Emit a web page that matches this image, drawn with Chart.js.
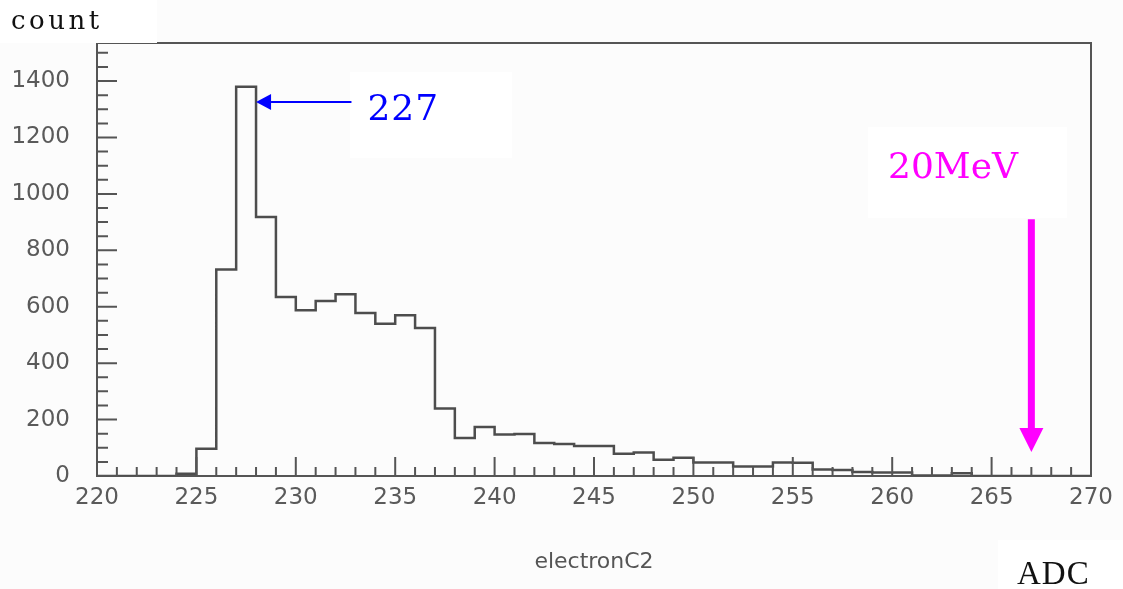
<!DOCTYPE html>
<html>
<head>
<meta charset="utf-8">
<title>electronC2</title>
<script src="https://cdn.jsdelivr.net/npm/chart.js@4.4.0/dist/chart.umd.min.js"></script>
<style>
  html, body { margin: 0; padding: 0; background: #fcfcfc; }
  canvas { display: block; }
</style>
</head>
<body>
<canvas id="hist" width="1123" height="589"></canvas>
<script>
// lower edge of each 1-ADC bin and the number of entries in it
const binEdges = [
  220, 221, 222, 223, 224, 225, 226, 227, 228, 229,
  230, 231, 232, 233, 234, 235, 236, 237, 238, 239,
  240, 241, 242, 243, 244, 245, 246, 247, 248, 249,
  250, 251, 252, 253, 254, 255, 256, 257, 258, 259,
  260, 261, 262, 263, 264, 265, 266, 267, 268, 269
];
const counts = [
  0, 0, 0, 0, 8, 97, 732, 1380, 918, 635,
  588, 620, 644, 578, 540, 570, 525, 239, 135, 174,
  147, 149, 117, 113, 106, 106, 79, 83, 58, 65,
  48, 48, 34, 34, 48, 47, 23, 21, 14, 12,
  12, 2, 2, 10, 0, 0, 0, 0, 0, 0
];
const xRange = [220, 270];
const yRange = [0, 1535];

// annotations: peak position and the 20 MeV marker (ADC, count)
const peakAdc = 227;
const peakArrow = [232.8, 1326, 228.0, 1326];
const markerAdc = 267;
const markerArrow = [markerAdc, 910, markerAdc, 85];
const markerText = '20MeV';

// histogram outline as a stepped line through the bin edges
const points = binEdges.map((e, i) => ({ x: e, y: counts[i] }));
points.push({ x: xRange[1], y: counts[counts.length - 1] });

function drawArrow(ctx, x1, y1, x2, y2, width, headLen, headHalf, color) {
  const ang = Math.atan2(y2 - y1, x2 - x1);
  const bx = x2 - Math.cos(ang) * headLen;
  const by = y2 - Math.sin(ang) * headLen;
  ctx.strokeStyle = color;
  ctx.fillStyle = color;
  ctx.lineWidth = width;
  ctx.beginPath();
  ctx.moveTo(x1, y1);
  ctx.lineTo(bx, by);
  ctx.stroke();
  ctx.beginPath();
  ctx.moveTo(x2, y2);
  ctx.lineTo(bx + Math.sin(ang) * headHalf, by - Math.cos(ang) * headHalf);
  ctx.lineTo(bx - Math.sin(ang) * headHalf, by + Math.cos(ang) * headHalf);
  ctx.closePath();
  ctx.fill();
}

const histDecor = {
  id: 'histDecor',
  beforeDraw(chart) {
    const ctx = chart.ctx;
    ctx.save();
    ctx.fillStyle = '#fcfcfc';
    ctx.fillRect(0, 0, chart.width, chart.height);
    ctx.restore();
    // the plotted part looks slightly soft
    ctx.filter = 'blur(0.6px)';
  },
  afterDatasetsDraw(chart) {
    const { ctx, chartArea: a, scales: { x, y } } = chart;
    ctx.save();
    ctx.strokeStyle = '#555';
    ctx.lineWidth = 2;
    ctx.beginPath();
    // top and right side of the frame
    ctx.moveTo(a.left, a.top);
    ctx.lineTo(a.right, a.top);
    ctx.lineTo(a.right, a.bottom);
    // tick marks pointing into the frame
    for (let v = xRange[0]; v <= xRange[1]; v++) {
      const px = x.getPixelForValue(v);
      const len = v % 5 === 0 ? 19 : 9;
      ctx.moveTo(px, a.bottom);
      ctx.lineTo(px, a.bottom - len);
    }
    for (let v = yRange[0]; v <= yRange[1]; v += 50) {
      const py = y.getPixelForValue(v);
      const len = v % 200 === 0 ? 20 : 11;
      ctx.moveTo(a.left, py);
      ctx.lineTo(a.left + len, py);
    }
    ctx.stroke();
    ctx.restore();
  },
  afterDraw(chart) {
    const { ctx, scales: { x, y } } = chart;
    ctx.save();
    ctx.filter = 'none';

    // white boxes behind the pasted labels
    ctx.fillStyle = '#ffffff';
    ctx.fillRect(0, 0, 157, 43);
    ctx.fillRect(350, 72, 162, 86);
    ctx.fillRect(868, 127, 199, 91);
    ctx.fillRect(998, 540, 125, 49);

    // arrow to the peak bin
    drawArrow(ctx,
      x.getPixelForValue(peakArrow[0]), y.getPixelForValue(peakArrow[1]),
      x.getPixelForValue(peakArrow[2]), y.getPixelForValue(peakArrow[3]),
      2, 15, 8, '#0000ff');
    // arrow down to the 20 MeV position
    drawArrow(ctx,
      x.getPixelForValue(markerArrow[0]), y.getPixelForValue(markerArrow[1]),
      x.getPixelForValue(markerArrow[2]), y.getPixelForValue(markerArrow[3]),
      7, 24, 12, '#ff00ff');

    ctx.textBaseline = 'alphabetic';
    ctx.textAlign = 'left';

    ctx.fillStyle = '#0000ff';
    ctx.font = '36px "DejaVu Serif"';
    ctx.letterSpacing = '1px';
    ctx.fillText(String(peakAdc), x.getPixelForValue(peakArrow[0]) + 16, 120);

    ctx.fillStyle = '#ff00ff';
    ctx.font = '36px "DejaVu Serif"';
    ctx.letterSpacing = '0px';
    ctx.fillText(markerText, 888, 178);

    ctx.fillStyle = '#111';
    ctx.font = '26px "DejaVu Serif"';
    ctx.letterSpacing = '3.5px';
    ctx.fillText('count', 11, 29);

    ctx.font = '33px "Liberation Serif"';
    ctx.letterSpacing = '1px';
    ctx.fillText('ADC', 1017, 584);
    ctx.restore();
  }
};

const tickFont = { family: 'DejaVu Sans', size: 23 };

new Chart(document.getElementById('hist'), {
  type: 'line',
  data: {
    datasets: [{
      data: points,
      stepped: true,
      borderColor: '#4d4d4d',
      borderWidth: 2.5,
      pointRadius: 0,
      fill: false
    }]
  },
  options: {
    responsive: false,
    animation: false,
    events: [],
    layout: { padding: { left: 0, right: 32, top: 43, bottom: 0 } },
    plugins: {
      legend: { display: false },
      tooltip: { enabled: false }
    },
    scales: {
      x: {
        type: 'linear',
        min: xRange[0],
        max: xRange[1],
        grid: { drawOnChartArea: false, drawTicks: false },
        border: { color: '#555', width: 2 },
        ticks: {
          stepSize: 5,
          autoSkip: false,
          maxRotation: 0,
          padding: 8,
          color: '#5a5a5a',
          font: tickFont,
          callback: v => String(v)
        },
        title: {
          display: true,
          text: 'electronC2',
          color: '#555',
          font: { family: 'DejaVu Sans', size: 22 },
          padding: { top: 0, bottom: 14 }
        },
        afterFit(scale) { scale.height = 113; }
      },
      y: {
        min: yRange[0],
        max: yRange[1],
        grid: { drawOnChartArea: false, drawTicks: false },
        border: { color: '#555', width: 2 },
        ticks: {
          stepSize: 200,
          includeBounds: false,
          padding: 27,
          color: '#5a5a5a',
          font: tickFont,
          callback: v => String(v)
        },
        afterFit(scale) { scale.width = 97; }
      }
    }
  },
  plugins: [histDecor]
});
</script>
</body>
</html>
